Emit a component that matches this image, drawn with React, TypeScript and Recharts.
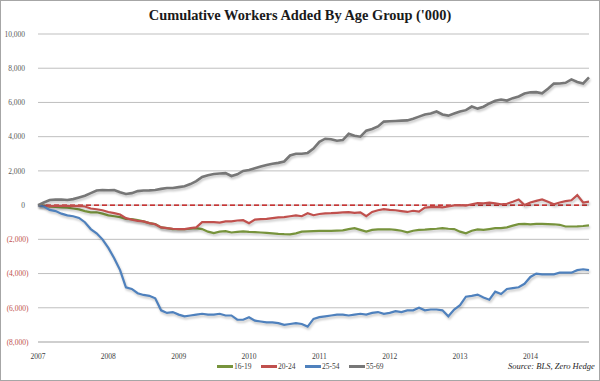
import React from "react";
import { LineChart, Line, XAxis, YAxis, CartesianGrid, ReferenceLine, Legend } from "recharts";

const years = [2007, 2008, 2009, 2010, 2011, 2012, 2013, 2014];
const yTicks = [-8000, -6000, -4000, -2000, 0, 2000, 4000, 6000, 8000, 10000];

// monthly, Jan 2007 .. Nov 2014 (95 months)
const months: string[] = years.flatMap((y) => Array.from({ length: 12 }, (_, m) => `${y}-${String(m + 1).padStart(2, "0")}`)).slice(0, 95);
const yearTicks = years.map((y) => `${y}-01`);

const teens = [
  0, -30, -90, -110, -130, -150, -200, -250, -350, -420,
  -420, -500, -600, -650, -700, -800, -820, -880, -950, -1050,
  -1110, -1300, -1350, -1400, -1400, -1400, -1380, -1350, -1400, -1550,
  -1640, -1550, -1520, -1600, -1560, -1530, -1560, -1580, -1600, -1620,
  -1650, -1680, -1700, -1710, -1650, -1550, -1530, -1520, -1510, -1500,
  -1500, -1490, -1480, -1400, -1350, -1450, -1550, -1450, -1420, -1420,
  -1410, -1450, -1500, -1590, -1500, -1450, -1430, -1400, -1380, -1350,
  -1380, -1400, -1550, -1650, -1500, -1420, -1450, -1400, -1350, -1350,
  -1300, -1200, -1110, -1100, -1120, -1100, -1100, -1110, -1120, -1150,
  -1250, -1250, -1240, -1220, -1180,
];

const young = [
  0, -50, -60, -50, -50, -40, -60, -50, -80, -200,
  -240, -300, -400, -470, -550, -760, -850, -920, -950, -1050,
  -1120, -1300, -1350, -1380, -1400, -1400, -1350, -1300, -1000, -1000,
  -1000, -1020, -950, -950, -900, -880, -1060, -850, -820, -800,
  -760, -720, -700, -650, -600, -650, -470, -590, -520, -480,
  -470, -450, -430, -410, -450, -420, -650, -400, -300, -240,
  -280, -300, -350, -400, -330, -380, -150, -120, -100, -130,
  -80, -20, 0, -30, 50, 120, 100, 150, 100, 50,
  80, 200, 330, 0, 150, 250, 330, 200, 50, 150,
  230, 280, 580, 150, 200,
];

const prime = [
  0, -80, -280, -350, -500, -600, -650, -750, -1000, -1400,
  -1650, -2000, -2500, -3100, -3800, -4800, -4900, -5150, -5250, -5300,
  -5450, -6150, -6300, -6250, -6400, -6500, -6450, -6400, -6350, -6400,
  -6400, -6350, -6450, -6450, -6700, -6700, -6550, -6750, -6800, -6850,
  -6850, -6900, -7000, -6950, -6900, -6950, -7100, -6650, -6550, -6500,
  -6450, -6400, -6400, -6450, -6400, -6350, -6400, -6300, -6250, -6350,
  -6300, -6200, -6250, -6150, -6150, -6000, -6150, -6100, -6100, -6150,
  -6500, -6100, -5850, -5350, -5300, -5230, -5400, -5530, -5060, -5200,
  -4900, -4850, -4800, -4600, -4200, -4000, -4050, -4050, -4050, -3950,
  -3950, -3950, -3800, -3750, -3800,
];

const older = [
  0, 150, 300, 320, 330, 300, 350, 450, 550, 700,
  850, 880, 870, 880, 750, 650, 700, 820, 850, 860,
  880, 950, 1000, 1000, 1050, 1100, 1230, 1400, 1650, 1750,
  1820, 1850, 1870, 1700, 1800, 2000, 2050, 2150, 2250, 2350,
  2420, 2470, 2550, 2900, 3000, 3000, 3050, 3300, 3700, 3880,
  3850, 3760, 3800, 4170, 4050, 4000, 4350, 4450, 4600, 4880,
  4900, 4920, 4940, 4950, 5050, 5170, 5290, 5350, 5470, 5300,
  5230, 5350, 5470, 5550, 5760, 5640, 5750, 5940, 6100, 6170,
  6110, 6250, 6350, 6520, 6590, 6600, 6530, 6800, 7100, 7110,
  7150, 7350, 7200, 7110, 7470,
];

const data = months.map((m, i) => ({
  m,
  a: teens[i],
  b: young[i],
  c: prime[i],
  d: older[i],
}));

const fmtY = (v: number) => {
  const s = Math.abs(v).toLocaleString("en-US");
  return v < 0 ? `(${s})` : s;
};

const YTick = (props: any) => {
  const { y, payload } = props;
  const v = payload.value;
  return (
    <text x={v < 0 ? 28.5 : 25} y={y} dy={2.8} textAnchor="end" fontSize={7.5} fontFamily="Liberation Serif" fill={v < 0 ? "#C0504D" : "#595959"}>
      {fmtY(v)}
    </text>
  );
};

const XTick = (props: any) => {
  const { x, y, payload } = props;
  return (
    <text x={x} y={y + 9} textAnchor="middle" fontSize={7.5} fontFamily="Liberation Serif" fill="#404040">
      {payload.value.slice(0, 4)}
    </text>
  );
};

const LegendContent = (props: any) => {
  const { payload } = props;
  return (
    <div style={{ display: "flex", fontFamily: "Liberation Serif", fontSize: 7.5, color: "#404040", lineHeight: "9px" }}>
      {(payload || []).map((p: any) => (
        <div key={p.value} style={{ display: "flex", alignItems: "center", width: 44 }}>
          <div style={{ width: 16, height: 2.5, background: p.color, marginRight: 1 }} />
          <span>{p.value}</span>
        </div>
      ))}
    </div>
  );
};

export default function App() {
  return (
    <div style={{ position: "fixed", left: 0, top: 0, width: 600, height: 381, background: "#fff" }}>
      <style>{`.recharts-line-curve{filter:drop-shadow(1px 2px 1px rgba(0,0,0,0.22));}`}</style>
      <div style={{ position: "absolute", left: 0, top: 0, width: 598, height: 379, border: "1px solid #a6a6a6" }} />
      <div style={{ position: "absolute", top: 7, left: 0, width: 600, textAlign: "center", fontFamily: "Liberation Serif", fontWeight: "bold", fontSize: 14.4, color: "#1a1a1a" }}>
        Cumulative Workers Added By Age Group ('000)
      </div>
      <LineChart width={600} height={381} data={data} margin={{ top: 34, right: 11, left: 8, bottom: 10 }}>
        <CartesianGrid vertical={false} stroke="#bfbfbf" />
        <XAxis
          dataKey="m"
          ticks={yearTicks}
          interval={0}
          axisLine={{ stroke: "#bfbfbf" }}
          tickLine={false}
          height={20}
          tick={<XTick />}
        />
        <YAxis
          width={30}
          domain={[-8000, 10000]}
          ticks={yTicks}
          axisLine={false}
          tickLine={false}
          tick={<YTick />}
        />
        <ReferenceLine y={0} stroke="#C00000" strokeWidth={1.3} strokeDasharray="5 3" />
        <Line dataKey="a" name="16-19" stroke="#77933C" strokeWidth={2.2} dot={false} isAnimationActive={false} />
        <Line dataKey="b" name="20-24" stroke="#C0504D" strokeWidth={2.2} dot={false} isAnimationActive={false} />
        <Line dataKey="c" name="25-54" stroke="#4F81BD" strokeWidth={2.2} dot={false} isAnimationActive={false} />
        <Line dataKey="d" name="55-69" stroke="#777777" strokeWidth={2.6} dot={false} isAnimationActive={false} />
        <Legend content={<LegendContent />} wrapperStyle={{ position: "absolute", left: 217, top: 362, width: 190 }} />
      </LineChart>
      <div style={{ position: "absolute", left: 508, top: 361, fontFamily: "Liberation Serif", fontStyle: "italic", fontSize: 8.5, color: "#262626", whiteSpace: "nowrap" }}>
        Source: BLS, Zero Hedge
      </div>
    </div>
  );
}
